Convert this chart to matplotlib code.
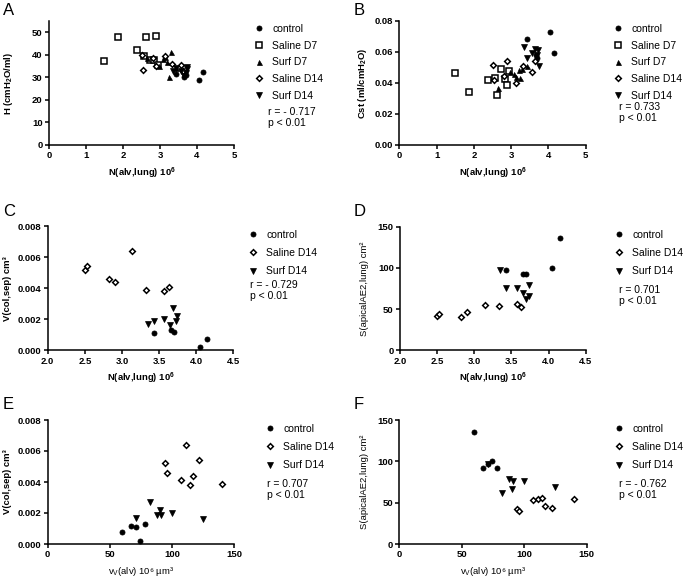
import matplotlib
matplotlib.use("Agg")
import matplotlib.pyplot as plt
from matplotlib.lines import Line2D

plt.rcParams['font.family'] = ['Liberation Sans', 'DejaVu Sans']
plt.rcParams['mathtext.default'] = 'regular'

# ---------------- data ----------------
# Panels A/B : N(alv,lung), H, Cst
ctrl_N = [4.15, 4.05, 3.43, 3.66, 3.70]
ctrl_H = [32.2, 28.8, 31.5, 30.3, 31.0]
ctrl_C = [0.059, 0.073, 0.068, 0.058, 0.056]
ctrl_v = [60, 74, 71, 78, 67]
ctrl_V = [0.00075, 0.0002, 0.0011, 0.0013, 0.00115]
ctrl_S = [136, 100, 97, 92, 92]

salD7_N = [1.49, 1.86, 2.39, 2.57, 2.61, 2.73, 2.84, 2.89, 2.94]
salD7_H = [37.4, 47.8, 42.2, 39.5, 48.0, 37.7, 37.5, 48.2, 35.3]
salD7_C = [0.0465, 0.0341, 0.0418, 0.0429, 0.0324, 0.0491, 0.0423, 0.0388, 0.0478]

surfD7_N = [2.65, 2.98, 3.07, 3.13, 3.20, 3.25, 3.30, 3.42]
surfD7_H = [38.5, 35.0, 38.0, 39.0, 37.0, 30.0, 41.1, 34.0]
surfD7_C = [0.037, 0.047, 0.046, 0.044, 0.048, 0.043, 0.049, 0.051]

salD14_N = [2.50, 2.53, 2.82, 2.90, 3.14, 3.33, 3.57, 3.63]
salD14_H = [40.0, 33.3, 38.5, 35.0, 39.5, 36.0, 35.5, 33.0]
salD14_C = [0.0515, 0.0418, 0.0444, 0.054, 0.040, 0.0508, 0.047, 0.0543]
salD14_v = [94, 122, 96, 117, 111, 140, 114, 107]
salD14_V = [0.0052, 0.0054, 0.0046, 0.0044, 0.0064, 0.0039, 0.0038, 0.0041]
salD14_S = [42, 44, 40, 46, 55, 54, 56, 53]

surfD14_N = [3.35, 3.43, 3.57, 3.65, 3.69, 3.73, 3.74]
surfD14_H = [33.0, 34.0, 33.0, 30.5, 32.0, 34.5, 33.5]
surfD14_C = [0.063, 0.056, 0.059, 0.062, 0.058, 0.061, 0.051]
surfD14_v = [71, 91, 100, 125, 82, 88, 90]
surfD14_V = [0.0017, 0.0019, 0.0020, 0.0016, 0.0027, 0.0019, 0.0022]
surfD14_S = [97, 76, 76, 69, 62, 79, 66]

stats = {'A': 'r = - 0.717\np < 0.01', 'B': 'r = 0.733\np < 0.01',
         'C': 'r = - 0.729\np < 0.01', 'D': 'r = 0.701\np < 0.01',
         'E': 'r = 0.707\np < 0.01', 'F': 'r = - 0.762\np < 0.01'}

# ---------------- style ----------------
W, H = 685, 577
fig = plt.figure(figsize=(W / 100, H / 100), dpi=100)

styles = {
    'control': dict(marker='o', ms=3.6, mfc='black', mec='black', mew=0.6),
    'Saline D7': dict(marker='s', ms=4.0, mfc='white', mec='black', mew=1.1),
    'Surf D7': dict(marker='^', ms=3.6, mfc='black', mec='black', mew=0.5),
    'Saline D14': dict(marker='D', ms=2.9, mfc='white', mec='black', mew=1.1),
    'Surf D14': dict(marker='v', ms=3.8, mfc='black', mec='black', mew=0.5),
}

FS_TICK = 6.8
FS_LEG = 7.5


def make_ax(l, r, t, b):
    ax = fig.add_axes([l / W, 1 - b / H, (r - l) / W, (b - t) / H])
    for s in ('top', 'right'):
        ax.spines[s].set_visible(False)
    for s in ('left', 'bottom'):
        ax.spines[s].set_linewidth(1.1)
    ax.tick_params(direction='out', length=3, width=1.1, labelsize=FS_TICK, pad=1.5)
    return ax


def scatter(ax, x, y, name):
    ax.plot(x, y, linestyle='none', zorder=3, clip_on=False, **styles[name])


def legend(ax, names, mx, ty, spacing):
    handles = [Line2D([], [], linestyle='none', **styles[n]) for n in names]
    leg = ax.legend(handles, names, loc='upper left', frameon=False,
                    bbox_to_anchor=(mx / W, 1 - ty / H), bbox_transform=fig.transFigure,
                    fontsize=FS_LEG, handlelength=0.6, handletextpad=0.95,
                    labelspacing=spacing, borderpad=0, borderaxespad=0)
    return leg


def boldticks(ax):
    for lab in ax.get_xticklabels() + ax.get_yticklabels():
        lab.set_fontweight('bold')


def letter(x, y, s):
    fig.text(x / W, 1 - y / H, s, fontsize=12, ha='left', va='top')


N_label = r"N(alv,lung) 10$^{6}$"
v_label = r"v$_{V}$(alv) 10⁶ µm³"

# ---- Panel A ----
axA = make_ax(49, 234, 21, 145)
scatter(axA, ctrl_N, ctrl_H, 'control')
scatter(axA, salD7_N, salD7_H, 'Saline D7')
scatter(axA, surfD7_N, surfD7_H, 'Surf D7')
scatter(axA, salD14_N, salD14_H, 'Saline D14')
scatter(axA, surfD14_N, surfD14_H, 'Surf D14')
axA.set_xlim(0, 5); axA.set_ylim(0, 55)
axA.set_xticks(range(0, 6)); axA.set_yticks(range(0, 51, 10))
axA.set_xlabel(N_label, fontsize=FS_TICK, fontweight='bold')
axA.set_ylabel(r"H (cmH$_{2}$O/ml)", fontsize=FS_TICK, fontweight='bold', labelpad=12)
legend(axA, list(styles.keys()), 256, 24, 0.64)
fig.text(268 / W, 1 - 107 / H, stats['A'], fontsize=FS_LEG, va='top', linespacing=1.1)
letter(3, 3, 'A')

# ---- Panel B ----
axB = make_ax(399.3, 585.7, 20.7, 145)
scatter(axB, ctrl_N, ctrl_C, 'control')
scatter(axB, salD7_N, salD7_C, 'Saline D7')
scatter(axB, surfD7_N, surfD7_C, 'Surf D7')
scatter(axB, salD14_N, salD14_C, 'Saline D14')
scatter(axB, surfD14_N, surfD14_C, 'Surf D14')
axB.set_xlim(0, 5); axB.set_ylim(0, 0.08)
axB.set_xticks(range(0, 6)); axB.set_yticks([0, 0.02, 0.04, 0.06, 0.08])
axB.set_yticklabels(['0.00', '0.02', '0.04', '0.06', '0.08'])
axB.set_xlabel(N_label, fontsize=FS_TICK, fontweight='bold')
axB.set_ylabel(r"Cst (ml/cmH$_{2}$O)", fontsize=FS_TICK, fontweight='bold')
legend(axB, list(styles.keys()), 615, 24, 0.64)
fig.text(619 / W, 1 - 102 / H, stats['B'], fontsize=FS_LEG, va='top', linespacing=1.1)
letter(354, 3, 'B')

d14 = ['control', 'Saline D14', 'Surf D14']

# ---- Panel C ----
axC = make_ax(47.7, 233.3, 226, 350.3)
scatter(axC, ctrl_N, ctrl_V, 'control')
scatter(axC, salD14_N, salD14_V, 'Saline D14')
scatter(axC, surfD14_N, surfD14_V, 'Surf D14')
axC.set_xlim(2.0, 4.5); axC.set_ylim(0, 0.008)
axC.set_xticks([2.0, 2.5, 3.0, 3.5, 4.0, 4.5])
axC.set_xticklabels(['2.0', '2.5', '3.0', '3.5', '4.0', '4.5'])
axC.set_yticks([0, 0.002, 0.004, 0.006, 0.008])
axC.set_yticklabels(['0.000', '0.002', '0.004', '0.006', '0.008'])
axC.set_xlabel(N_label, fontsize=FS_TICK, fontweight='bold')
axC.set_ylabel("V(col,sep) cm³", fontsize=FS_TICK, fontweight='bold')
legend(axC, d14, 250, 230, 0.78)
fig.text(250 / W, 1 - 280 / H, stats['C'], fontsize=FS_LEG, va='top', linespacing=1.1)
letter(3, 204, 'C')

# ---- Panel D ----
axD = make_ax(400, 585.7, 226.7, 350.3)
scatter(axD, ctrl_N, ctrl_S, 'control')
scatter(axD, salD14_N, salD14_S, 'Saline D14')
scatter(axD, surfD14_N, surfD14_S, 'Surf D14')
axD.set_xlim(2.0, 4.5); axD.set_ylim(0, 150)
axD.set_xticks([2.0, 2.5, 3.0, 3.5, 4.0, 4.5])
axD.set_xticklabels(['2.0', '2.5', '3.0', '3.5', '4.0', '4.5'])
axD.set_yticks([0, 50, 100, 150])
axD.set_xlabel(N_label, fontsize=FS_TICK, fontweight='bold')
axD.set_ylabel("S(apicalAE2,lung) cm²", fontsize=FS_TICK, labelpad=6)
legend(axD, d14, 616, 230, 0.78)
fig.text(619 / W, 1 - 285 / H, stats['D'], fontsize=FS_LEG, va='top', linespacing=1.1)
letter(354, 204, 'D')

# ---- Panel E ----
axE = make_ax(47.7, 234.3, 420, 544)
scatter(axE, ctrl_v, ctrl_V, 'control')
scatter(axE, salD14_v, salD14_V, 'Saline D14')
scatter(axE, surfD14_v, surfD14_V, 'Surf D14')
axE.set_xlim(0, 150); axE.set_ylim(0, 0.008)
axE.set_xticks([0, 50, 100, 150])
axE.set_yticks([0, 0.002, 0.004, 0.006, 0.008])
axE.set_yticklabels(['0.000', '0.002', '0.004', '0.006', '0.008'])
axE.set_xlabel(v_label, fontsize=FS_TICK)
axE.set_ylabel("V(col,sep) cm³", fontsize=FS_TICK, fontweight='bold')
legend(axE, d14, 267, 424, 0.78)
fig.text(267 / W, 1 - 479 / H, stats['E'], fontsize=FS_LEG, va='top', linespacing=1.1)
letter(3, 397, 'E')

# ---- Panel F ----
axF = make_ax(399.3, 586.7, 420, 544)
scatter(axF, ctrl_v, ctrl_S, 'control')
scatter(axF, salD14_v, salD14_S, 'Saline D14')
scatter(axF, surfD14_v, surfD14_S, 'Surf D14')
axF.set_xlim(0, 150); axF.set_ylim(0, 150)
axF.set_xticks([0, 50, 100, 150])
axF.set_yticks([0, 50, 100, 150])
axF.set_xlabel(v_label, fontsize=FS_TICK)
axF.set_ylabel("S(apicalAE2,lung) cm²", fontsize=FS_TICK, labelpad=6)
legend(axF, d14, 616, 424, 0.78)
fig.text(619 / W, 1 - 479 / H, stats['F'], fontsize=FS_LEG, va='top', linespacing=1.1)
letter(354, 397, 'F')

for ax in (axA, axB, axC, axD, axE, axF):
    boldticks(ax)

fig.savefig('out.png', dpi=100)
